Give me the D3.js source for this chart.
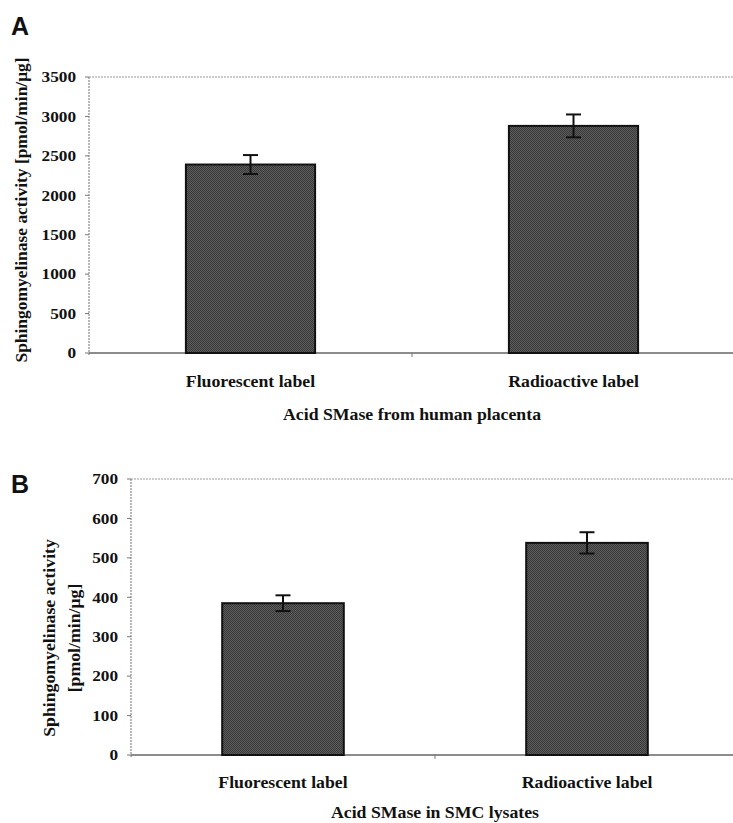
<!DOCTYPE html>
<html><head><meta charset="utf-8">
<script src="https://cdn.jsdelivr.net/npm/d3@7"></script>
<style>
body{margin:0;background:#fff;}
svg text{font-family:"Liberation Serif","Times New Roman",serif;font-weight:bold;fill:#111;}
</style></head>
<body><svg id="c" width="733" height="823"></svg>
<script>
const categories = ["Fluorescent label", "Radioactive label"];
const valuesA = [2390, 2880];
const errorsA = [120, 145];
const ticksA = [0, 500, 1000, 1500, 2000, 2500, 3000, 3500];
const valuesB = [385, 538];
const errorsB = [20, 27];
const ticksB = [0, 100, 200, 300, 400, 500, 600, 700];
const titleA = "Acid SMase from human placenta";
const titleB = "Acid SMase in SMC lysates";
const yLabelA = ["Sphingomyelinase activity [pmol/min/\u03bcg]"];
const yLabelB = ["Sphingomyelinase activity", "[pmol/min/\u03bcg]"];

const svg = d3.select("#c");
const defs = svg.append("defs");
const pat = defs.append("pattern").attr("id","hatch").attr("patternUnits","userSpaceOnUse")
  .attr("width",2).attr("height",2);
pat.append("rect").attr("width",2).attr("height",2).attr("fill","#5e5e5e");
pat.append("rect").attr("width",1).attr("height",1).attr("fill","#383838");
pat.append("rect").attr("x",1).attr("y",1).attr("width",1).attr("height",1).attr("fill","#383838");

// stretched text helper (scanned figure text is horizontally wide)
function stext(parent, x, y, str, size, sx, anchor, rot){
  const g = parent.append("g").attr("transform",
    `translate(${x},${y})` + (rot ? ` rotate(${rot})` : "") + ` scale(${sx},1)`);
  return g.append("text").attr("text-anchor",anchor).attr("font-size",size).text(str);
}

function panel(cfg){
  const g = svg.append("g");
  const x = d3.scaleBand().domain(categories).range([cfg.left, cfg.right]).paddingInner(0).paddingOuter(0);
  const y = d3.scaleLinear().domain([0, cfg.max]).range([cfg.bottom, cfg.top]);
  const bw = x.bandwidth()*0.4;
  g.append("line").attr("x1",cfg.left).attr("x2",cfg.right).attr("y1",y(cfg.max)).attr("y2",y(cfg.max))
    .attr("stroke","#9a9a9a").attr("stroke-width",1.2).attr("stroke-dasharray","2,1");
  g.append("line").attr("x1",cfg.left).attr("x2",cfg.left).attr("y1",y(cfg.max)).attr("y2",y(0)+3)
    .attr("stroke","#8a8a8a").attr("stroke-width",1.2).attr("stroke-dasharray","2,1");
  cfg.ticks.forEach(t=>{
    g.append("line").attr("x1",cfg.left-4).attr("x2",cfg.left).attr("y1",y(t)).attr("y2",y(t))
      .attr("stroke","#777").attr("stroke-width",1);
    stext(g, cfg.left-13, y(t), t, 15, 1.15, "end").attr("dy","0.35em");
  });
  g.append("line").attr("x1",cfg.left).attr("x2",cfg.right).attr("y1",y(0)).attr("y2",y(0))
    .attr("stroke","#666").attr("stroke-width",1.4);
  g.append("line").attr("x1",x(categories[1])).attr("x2",x(categories[1]))
    .attr("y1",y(0)).attr("y2",y(0)+4).attr("stroke","#777");
  categories.forEach((c,i)=>{
    const cx = x(c)+x.bandwidth()/2;
    g.append("rect").attr("x",cx-bw/2).attr("y",y(cfg.values[i])).attr("width",bw)
      .attr("height",y(0)-y(cfg.values[i])).attr("fill","url(#hatch)")
      .attr("stroke","#111").attr("stroke-width",2);
    const e = cfg.errors[i];
    g.append("line").attr("x1",cx).attr("x2",cx).attr("y1",y(cfg.values[i]+e)).attr("y2",y(cfg.values[i]-e))
      .attr("stroke","#111").attr("stroke-width",2);
    [cfg.values[i]+e, cfg.values[i]-e].forEach(v=>{
      g.append("line").attr("x1",cx-7.5).attr("x2",cx+7.5).attr("y1",y(v)).attr("y2",y(v))
        .attr("stroke","#111").attr("stroke-width",2);
    });
    stext(g, cx, cfg.catY, c, 16, 1.11, "middle");
  });
  stext(g, (cfg.left+cfg.right)/2, cfg.titleY, cfg.title, 16, 1.11, "middle");
  cfg.ylabel.forEach((l,i)=>{
    stext(g, cfg.ylx[i], cfg.yly, l, 16, cfg.ysx, "middle", -90);
  });
  svg.append("text").attr("x",cfg.letterX).attr("y",cfg.letterY)
    .style("font-family","'Liberation Sans',Arial,sans-serif").attr("font-size",25)
    .attr("font-weight","bold").text(cfg.letter);
}

panel({left:89,right:735,top:77,bottom:353,max:3500,ticks:ticksA,values:valuesA,errors:errorsA,
  catY:387,titleY:420,title:titleA,ylx:[27],yly:210,ysx:1.09,ylabel:yLabelA,letter:"A",letterX:11,letterY:35});
panel({left:131,right:739,top:479,bottom:755,max:700,ticks:ticksB,values:valuesB,errors:errorsB,
  catY:788,titleY:818,title:titleB,ylx:[55,80],yly:638,ysx:1.11,ylabel:yLabelB,letter:"B",letterX:11,letterY:493});
</script></body></html>
